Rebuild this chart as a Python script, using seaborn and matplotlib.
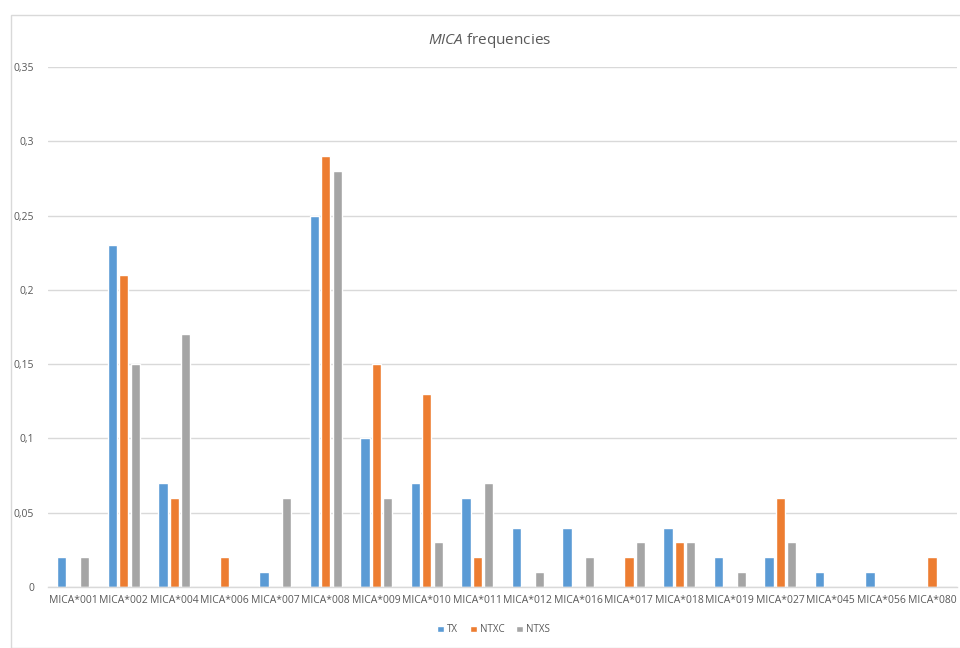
import matplotlib
matplotlib.use("Agg")
import matplotlib.pyplot as plt
from matplotlib.patches import Rectangle
from matplotlib.ticker import FuncFormatter
import pandas as pd
import seaborn as sns

alleles = ["MICA*001", "MICA*002", "MICA*004", "MICA*006", "MICA*007", "MICA*008",
           "MICA*009", "MICA*010", "MICA*011", "MICA*012", "MICA*016", "MICA*017",
           "MICA*018", "MICA*019", "MICA*027", "MICA*045", "MICA*056", "MICA*080"]
tx = [0.02, 0.23, 0.07, 0.00, 0.01, 0.25, 0.10, 0.07, 0.06, 0.04, 0.04, 0.00,
      0.04, 0.02, 0.02, 0.01, 0.01, 0.00]
ntxc = [0.00, 0.21, 0.06, 0.02, 0.00, 0.29, 0.15, 0.13, 0.02, 0.00, 0.00, 0.02,
        0.03, 0.00, 0.06, 0.00, 0.00, 0.02]
ntxs = [0.02, 0.15, 0.17, 0.00, 0.06, 0.28, 0.06, 0.03, 0.07, 0.01, 0.02, 0.03,
        0.03, 0.01, 0.03, 0.00, 0.00, 0.00]
groups = ["TX", "NTXC", "NTXS"]
colors = ["#5B9BD5", "#ED7D31", "#A5A5A5"]

df = pd.DataFrame({
    "allele": alleles * 3,
    "freq": tx + ntxc + ntxs,
    "group": [g for g in groups for _ in alleles],
})

sns.set_theme(style="white")
plt.rcParams["font.family"] = ["Open Sans", "DejaVu Sans"]
plt.rcParams["mathtext.fontset"] = "custom"
plt.rcParams["mathtext.it"] = "Open Sans:italic"
plt.rcParams["mathtext.rm"] = "Open Sans"

text_col = "#595959"
grid_col = "#D9D9D9"

fig = plt.figure(figsize=(9.6, 6.48), dpi=100)
fig.patches.append(Rectangle((0.011, 0.0), 1.5, 0.977, transform=fig.transFigure,
                             fill=False, edgecolor="#D9D9D9", linewidth=1.0))
ax = fig.add_axes([0.05, 0.0941, 0.947, 0.8025])

sns.barplot(data=df, x="allele", y="freq", hue="group", hue_order=groups,
            palette=colors, width=0.68, gap=0.18, saturation=1, ax=ax,
            legend=True, errorbar=None)

ax.set_xlim(-0.5, len(alleles) - 0.5)
ax.set_ylim(0, 0.35)
ax.set_yticks([0, 0.05, 0.1, 0.15, 0.2, 0.25, 0.3, 0.35])
ax.yaxis.set_major_formatter(FuncFormatter(lambda v, p: ("%g" % round(v, 2)).replace(".", ",")))
ax.grid(axis="y", color=grid_col, linewidth=1.0)
ax.set_axisbelow(True)
for s in ["top", "right", "left"]:
    ax.spines[s].set_visible(False)
ax.spines["bottom"].set_color(grid_col)
ax.spines["bottom"].set_linewidth(1.0)
ax.tick_params(axis="both", length=0, colors=text_col, labelsize=7.5)
ax.tick_params(axis="y", pad=10)
ax.tick_params(axis="x", pad=6)
ax.set_xlabel("")
ax.set_ylabel("")

fig.text(0.51, 0.938, r"$\mathit{MICA}$ frequencies", ha="center", va="center",
         fontsize=11, color=text_col)

ax.legend(loc="upper center", bbox_to_anchor=(0.49, -0.055), ncol=3, frameon=False,
          fontsize=7, labelcolor=text_col, handlelength=0.7, handleheight=0.7,
          handletextpad=0.3, columnspacing=1.2)

fig.savefig("out.png", dpi=100)
